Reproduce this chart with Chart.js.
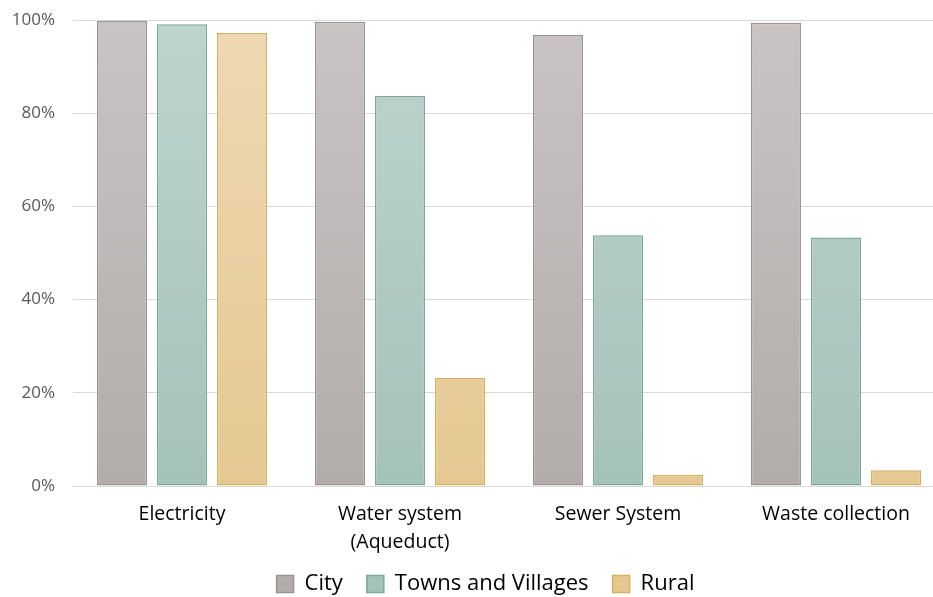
<!DOCTYPE html>
<html>
<head>
<meta charset="utf-8">
<script src="https://cdn.jsdelivr.net/npm/chart.js@4.4.1/dist/chart.umd.min.js"></script>
<style>
  html, body { margin: 0; padding: 0; background: #fff; overflow: hidden; }
  #wrap { width: 933px; height: 597px; overflow: hidden; }
</style>
</head>
<body>
<div id="wrap"><canvas id="myChart" width="945" height="597"></canvas></div>
<script>
// categorias e valores (%)
const categories = ['Electricity', ['Water system', '(Aqueduct)'], 'Sewer System', 'Waste collection'];
const cityValues = [99.8, 99.6, 96.8, 99.4];
const townsValues = [99.1, 83.7, 53.8, 53.3];
const ruralValues = [97.2, 23.2, 2.4, 3.4];
const yTicks = [0, 20, 40, 60, 80, 100];

// gradiente vertical: mais claro no topo
function grad(top, bottom) {
    return function (ctx) {
        const area = ctx.chart.chartArea;
        if (!area) return bottom;
        const g = ctx.chart.ctx.createLinearGradient(0, area.top, 0, area.bottom);
        g.addColorStop(0, top);
        g.addColorStop(1, bottom);
        return g;
    };
}

// ajusta a posição da legenda
const shiftLegend = {
    id: 'shiftLegend',
    afterLayout(chart) {
        chart.legend.left += 13;
        chart.legend.right += 13;
        chart.legend.top -= 7;
        chart.legend.bottom = chart.height;
    }
};

const ctx = document.getElementById('myChart').getContext('2d');
const myChart = new Chart(ctx, {
    type: 'bar',
    data: {
        labels: categories,
        datasets: [{
            label: 'City',
            data: cityValues,
            backgroundColor: grad('#c9c4c3', '#b2acab'),
            borderColor: '#9b9291',
            borderWidth: 1.5,
            borderSkipped: false
        }, {
            label: 'Towns and Villages',
            data: townsValues,
            backgroundColor: grad('#bdd4cd', '#a5c2b9'),
            borderColor: '#7ea89b',
            borderWidth: 1.5,
            borderSkipped: false
        }, {
            label: 'Rural',
            data: ruralValues,
            backgroundColor: grad('#eed9b3', '#e5c892'),
            borderColor: '#d6b061',
            borderWidth: 1.5,
            borderSkipped: false
        }]
    },
    options: {
        responsive: false,
        animation: false,
        layout: { padding: { left: 0, right: 0, top: 20, bottom: 0 } },
        datasets: { bar: { categoryPercentage: 0.826, barPercentage: 0.833 } },
        scales: {
            x: {
                grid: { display: false },
                border: { color: '#d9d9d9' },
                afterFit: axis => { axis.height = 70; },
                ticks: {
                    color: '#000',
                    font: { family: 'Open Sans', size: 19.5, lineHeight: 1.4 },
                    padding: 7,
                    maxRotation: 0
                }
            },
            y: {
                min: 0,
                max: 100,
                afterBuildTicks: axis => { axis.ticks = yTicks.map(v => ({ value: v })); },
                afterFit: axis => {
                    axis.width = 73;
                    axis.paddingTop = 0;
                    axis.paddingBottom = 0;
                },
                grid: { color: '#d9d9d9', drawTicks: false },
                border: { display: false },
                ticks: {
                    color: '#595959',
                    font: { family: 'Open Sans', size: 17 },
                    padding: 18,
                    callback: v => v + '%'
                }
            }
        },
        plugins: {
            legend: {
                position: 'bottom',
                labels: {
                    color: '#000',
                    font: { family: 'Open Sans', size: 22 },
                    boxWidth: 17,
                    boxHeight: 17,
                    padding: 24,
                    useBorderRadius: false
                }
            },
            tooltip: { enabled: false }
        }
    },
    plugins: [shiftLegend]
});

// a legenda reserva menos altura para o gráfico descer
const legendFit = myChart.legend.fit;
myChart.legend.fit = function () {
    legendFit.call(this);
    this.height -= 15;
};
myChart.update();
</script>
</body>
</html>
